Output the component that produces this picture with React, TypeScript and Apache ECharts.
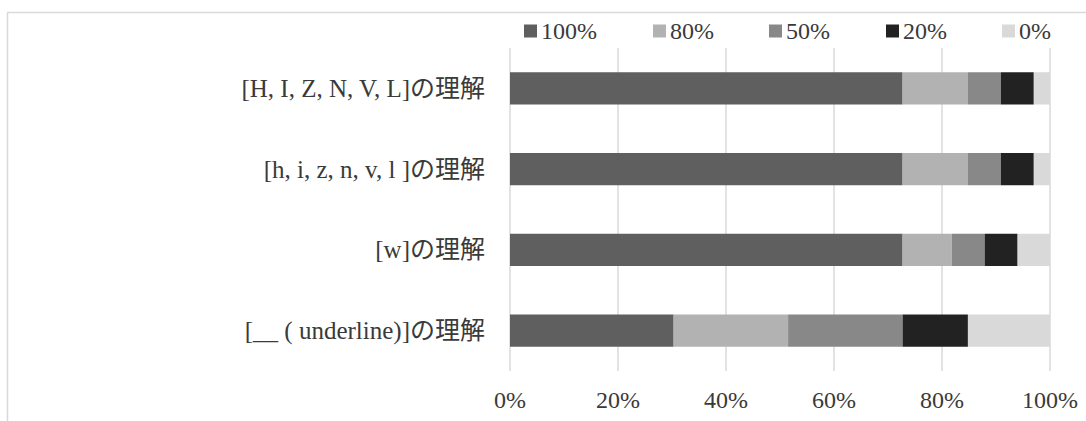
import React, { useEffect, useRef } from "react";
import * as echarts from "echarts";

const categories = [
  "[H, I, Z, N, V, L]の理解",
  "[h, i, z, n, v, l ]の理解",
  "[w]の理解",
  "[__ ( underline)]の理解",
];
const seriesNames = ["100%", "80%", "50%", "20%", "0%"];
const v100 = [72.7, 72.7, 72.7, 30.3];
const v80 = [12.1, 12.1, 9.1, 21.2];
const v50 = [6.1, 6.1, 6.1, 21.2];
const v20 = [6.1, 6.1, 6.1, 12.1];
const v0 = [3.0, 3.0, 6.1, 15.2];
const xTicks = [0, 20, 40, 60, 80, 100];

const colors = ["#5f5f5f", "#b2b2b2", "#888888", "#222222", "#d9d9d9"];
const legendLefts = [524, 653, 769, 886, 1002];
const FONT = "'Liberation Serif', 'Noto Sans CJK JP', serif";
const TEXT = "#3a3a3a";

export default function App() {
  const ref = useRef<HTMLDivElement>(null);
  useEffect(() => {
    if (!ref.current) return;
    const chart = echarts.init(ref.current, undefined, { renderer: "svg" });
    const values = [v100, v80, v50, v20, v0];
    chart.setOption({
      animation: false,
      backgroundColor: "#ffffff",
      textStyle: { fontFamily: FONT },
      graphic: [
        {
          type: "rect",
          silent: true,
          shape: { x: 7.5, y: 12.5, width: 1200, height: 600 },
          style: { fill: "none", stroke: "#d9d9d9", lineWidth: 1.5 },
        },
      ],
      legend: seriesNames.map((n, i) => ({
        data: [n],
        left: legendLefts[i],
        top: 19,
        itemWidth: 13,
        itemHeight: 13,
        itemGap: 0,
        icon: "rect",
        padding: 0,
        textStyle: { fontFamily: FONT, fontSize: 24, color: TEXT, padding: [0, 0, 0, -1] },
      })),
      grid: { left: 510, right: 36, top: 48, bottom: 50, containLabel: false },
      xAxis: {
        type: "value",
        min: xTicks[0],
        max: xTicks[xTicks.length - 1],
        interval: 20,
        axisLine: { show: false },
        axisTick: { show: false },
        splitLine: { show: true, lineStyle: { color: "#d9d9d9", width: 1.5 } },
        axisLabel: {
          formatter: "{value}%",
          fontFamily: FONT,
          fontSize: 24,
          color: TEXT,
          margin: 17,
        },
      },
      yAxis: {
        type: "category",
        data: categories,
        inverse: true,
        axisLine: { show: false },
        axisTick: { show: false },
        axisLabel: { fontFamily: FONT, fontSize: 25, color: TEXT, margin: 25 },
      },
      series: seriesNames.map((n, i) => ({
        name: n,
        type: "bar",
        stack: "total",
        barCategoryGap: "60%",
        data: values[i],
        itemStyle: { color: colors[i] },
      })),
    });
    return () => chart.dispose();
  }, []);
  return (
    <div
      ref={ref}
      style={{ position: "absolute", left: 0, top: 0, width: 1086, height: 421 }}
    />
  );
}
